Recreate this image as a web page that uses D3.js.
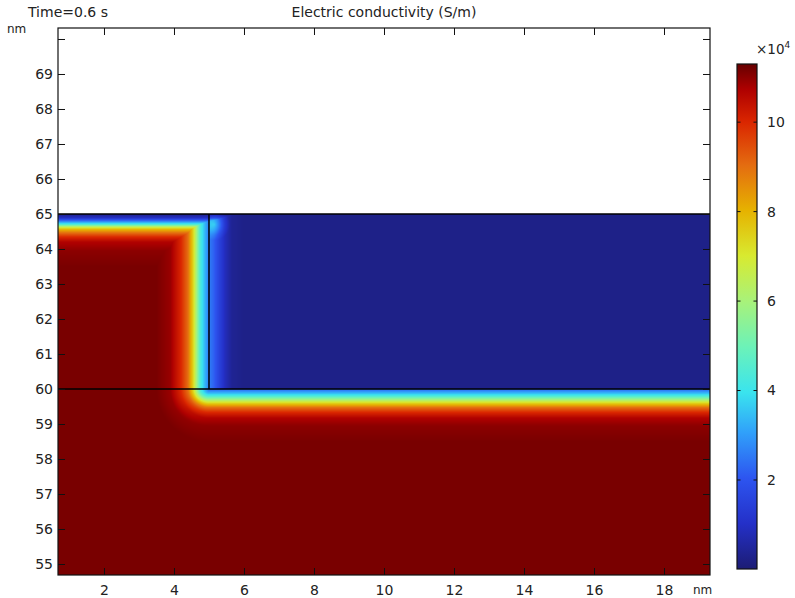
<!DOCTYPE html>
<html><head><meta charset="utf-8">
<script src="https://cdn.jsdelivr.net/npm/d3@7"></script>
<style>
html,body{margin:0;padding:0;background:#fff;}
svg text{font-family:"DejaVu Sans",sans-serif;fill:#222;}
</style></head>
<body>
<svg id="chart" width="795" height="598"></svg>
<script>
// ---------- data ----------
const xTicks = [2, 4, 6, 8, 10, 12, 14, 16, 18];
const yTicks = [55, 56, 57, 58, 59, 60, 61, 62, 63, 64, 65, 66, 67, 68, 69, 70];
const yTickLabels = ["55","56","57","58","59","60","61","62","63","64","65","66","67","68","69",""];
const cbTicks = [2, 4, 6, 8, 10];
const xDomain = [0.686, 19.314];
const yDomain = [54.686, 70.314];
const valueDomain = [0.01, 11.3];          // ×10^4 S/m
// geometry of the domains (nm)
const stepX = 5;        // vertical interface
const stepY = 60;       // horizontal interface
const topY = 65;        // top of the data
// conductivity profiles (×10^4 S/m) vs distance (nm)
const sideDist   = [0, 0.11, 0.26, 0.36, 0.46, 0.6, 0.8, 1.1, 1.5];
const sideVal    = [2.6, 3.3, 4.5, 6.0, 7.5, 9.0, 10.0, 10.9, 11.15];
const bottomDist = [0, 0.04, 0.13, 0.21, 0.31, 0.41, 0.53, 0.67, 0.83, 1.05, 1.5];
const bottomVal  = [2.2, 2.6, 3.5, 4.5, 6.0, 7.5, 9.0, 10.0, 10.7, 11.0, 11.15];
const topDepth   = [0, 0.11, 0.2, 0.29, 0.37, 0.43, 0.54, 0.66, 0.8, 1.05, 1.5];
const topVal     = [0.2, 1.0, 2.5, 4.2, 6.5, 7.8, 9.0, 10.0, 10.7, 11.0, 11.15];
const innerDist  = [0, 0.14, 0.3, 0.45, 0.65, 1.0];
const innerVal   = [2.6, 2.2, 1.5, 0.9, 0.4, 0.25];
const spotCenter = [5.15, 64.7];
const spotDist   = [0, 0.15, 0.3, 0.45];
const spotVal    = [1.5, 1.0, 0.4, 0];
// colour table
const cmapPos = [0, 0.09, 0.18, 0.27, 0.35, 0.44, 0.53, 0.62, 0.71, 0.80, 0.885, 0.95, 1.0];
const cmapCol = ["#1c1c74","#2430c8","#2d55f0","#30a0fa","#3ae4ee","#6cf2b8","#a8f27a",
                 "#d8ea30","#e6b200","#e46c10","#da2600","#ae0000","#660000"];

// ---------- layout ----------
const L = 58, R = 710, T = 28, B = 575;
const svg = d3.select("#chart");
const x = d3.scaleLinear().domain(xDomain).range([L, R]);
const y = d3.scaleLinear().domain(yDomain).range([B, T]);
const cTable = d3.scaleLinear().domain(cmapPos).range(cmapCol).interpolate(d3.interpolateRgb).clamp(true);
const norm = d3.scaleLinear().domain(valueDomain).range([0, 1]).clamp(true);
const color = v => cTable(norm(v));

const sideP = d3.scaleLinear().domain(sideDist).range(sideVal).clamp(true);
const bottomP = d3.scaleLinear().domain(bottomDist).range(bottomVal).clamp(true);
const topP = d3.scaleLinear().domain(topDepth).range(topVal).clamp(true);
const innerP = d3.scaleLinear().domain(innerDist).range(innerVal).clamp(true);
const spotP = d3.scaleLinear().domain(spotDist).range(spotVal).clamp(true);

function field(px, py) {
  if (py > topY) return null;
  const depth = topY - py;
  if (px >= stepX && py >= stepY) {
    let v = Math.min(innerP(px - stepX), topP(depth));
    const r = Math.hypot(px - spotCenter[0], py - spotCenter[1]);
    return v + spotP(r);
  }
  if (py >= stepY) return Math.min(sideP(stepX - px), topP(depth));
  if (px >= stepX) return bottomP(stepY - py);
  const dx = stepX - px, dy = stepY - py;
  const r = Math.hypot(dx, dy);
  const w = (dy * dy) / (r * r);
  return (1 - w) * sideP(r) + w * bottomP(r);
}

// ---------- heat map raster ----------
const W = R - L, H = B - T;
const cv = document.createElement("canvas");
cv.width = W; cv.height = H;
const ctx = cv.getContext("2d");
const img = ctx.createImageData(W, H);
for (let j = 0; j < H; j++) {
  const py = y.invert(T + j + 0.5);
  for (let i = 0; i < W; i++) {
    const px = x.invert(L + i + 0.5);
    const v = field(px, py);
    const k = (j * W + i) * 4;
    if (v === null) { img.data[k+3] = 0; continue; }
    const c = d3.rgb(color(v));
    img.data[k] = c.r; img.data[k+1] = c.g; img.data[k+2] = c.b; img.data[k+3] = 255;
  }
}
ctx.putImageData(img, 0, 0);
svg.append("image").attr("x", L).attr("y", T).attr("width", W).attr("height", H)
   .attr("href", cv.toDataURL());

// ---------- geometry lines ----------
const g = svg.append("g").attr("stroke", "#000").attr("stroke-width", 1.5).attr("fill", "none");
g.append("line").attr("x1", x(xDomain[0])).attr("x2", x(xDomain[1])).attr("y1", y(topY)).attr("y2", y(topY));
g.append("line").attr("x1", x(xDomain[0])).attr("x2", x(xDomain[1])).attr("y1", y(stepY)).attr("y2", y(stepY));
g.append("line").attr("x1", x(stepX)).attr("x2", x(stepX)).attr("y1", y(stepY)).attr("y2", y(topY));

// ---------- axes ----------
const tk = 7;
function styleAxis(sel) {
  sel.select(".domain").remove();
  sel.selectAll("line").attr("stroke", "#111").attr("stroke-width", 1);
  sel.selectAll("text").style("font-family", "DejaVu Sans").style("font-size", "14px").attr("fill", "#222");
}
svg.append("g").attr("transform", `translate(0,${B})`)
  .call(d3.axisBottom(x).tickValues(xTicks).tickSizeInner(-tk).tickPadding(10).tickFormat(d3.format("d")))
  .call(styleAxis);
svg.append("g").attr("transform", `translate(0,${T})`)
  .call(d3.axisTop(x).tickValues(xTicks).tickSizeInner(-tk).tickFormat(""))
  .call(styleAxis);
svg.append("g").attr("transform", `translate(${L},0)`)
  .call(d3.axisLeft(y).tickValues(yTicks).tickSizeInner(-tk).tickPadding(5).tickFormat((d, i) => yTickLabels[i]))
  .call(styleAxis);
svg.append("g").attr("transform", `translate(${R},0)`)
  .call(d3.axisRight(y).tickValues(yTicks).tickSizeInner(-tk).tickFormat(""))
  .call(styleAxis);
svg.append("rect").attr("x", L).attr("y", T).attr("width", W).attr("height", H)
  .attr("fill", "none").attr("stroke", "#111").attr("stroke-width", 1.2);

// unit labels
svg.append("text").attr("x", 7).attr("y", 33).style("font-size", "12px").text("nm");
svg.append("text").attr("x", 693).attr("y", 594).style("font-size", "12px").text("nm");

// titles
svg.append("text").attr("x", 28).attr("y", 17).style("font-size", "14px").text("Time=0.6 s");
svg.append("text").attr("x", (L + R) / 2).attr("y", 17).attr("text-anchor", "middle")
  .style("font-size", "14px").text("Electric conductivity (S/m)");

// ---------- colour bar ----------
const cbX = 737, cbW = 20, cbT = 64, cbB = 569;
const cy = d3.scaleLinear().domain(valueDomain).range([cbB, cbT]);
const defs = svg.append("defs");
const grad = defs.append("linearGradient").attr("id", "cb").attr("x1", 0).attr("y1", 1).attr("x2", 0).attr("y2", 0);
grad.selectAll("stop").data(cmapPos).join("stop")
  .attr("offset", d => d).attr("stop-color", (d, i) => cmapCol[i]);
svg.append("rect").attr("x", cbX).attr("y", cbT).attr("width", cbW).attr("height", cbB - cbT)
  .attr("fill", "url(#cb)").attr("stroke", "#111").attr("stroke-width", 1.2);
const cbt = svg.append("g");
cbt.selectAll("line.l").data(cbTicks).join("line").attr("class", "l")
  .attr("x1", cbX).attr("x2", cbX + 3.5).attr("y1", d => cy(d)).attr("y2", d => cy(d)).attr("stroke", "#111");
cbt.selectAll("line.r").data(cbTicks).join("line").attr("class", "r")
  .attr("x1", cbX + cbW - 3.5).attr("x2", cbX + cbW).attr("y1", d => cy(d)).attr("y2", d => cy(d)).attr("stroke", "#111");
cbt.selectAll("text").data(cbTicks).join("text")
  .attr("x", 767).attr("y", d => cy(d)).attr("dy", "0.35em")
  .style("font-size", "14px").text(d => d);
const ex = svg.append("text").attr("x", 756).attr("y", 54).style("font-size", "13.5px");
ex.append("tspan").text("×10");
ex.append("tspan").attr("dy", -6).style("font-size", "9px").text("4");
</script>
</body></html>
